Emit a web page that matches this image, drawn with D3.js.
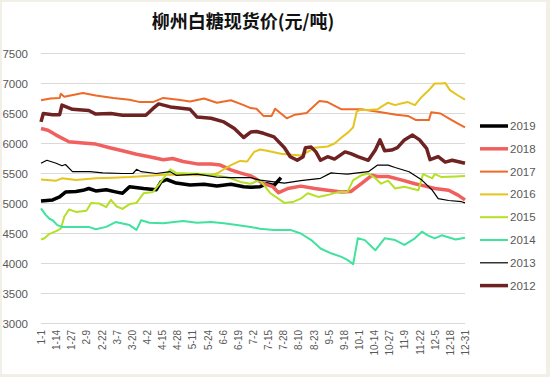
<!DOCTYPE html>
<html><head><meta charset="utf-8">
<script src="https://cdn.jsdelivr.net/npm/d3@7"></script>
<style>
html,body{margin:0;padding:0;background:#fff;}
svg{display:block;}
</style></head>
<body><svg id="c" width="550" height="377"></svg>
<script>
// ---- data (day index 0 = 1-1, 364 = 12-31) ----
const tickLabels = ["1-1","1-14","1-27","2-9","2-22","3-7","3-20","4-2","4-15","4-28","5-11","5-24","6-6","6-19","7-2","7-15","7-28","8-10","8-23","9-5","9-18","10-1","10-14","10-27","11-9","11-22","12-5","12-18","12-31"];
const yTicks = [3000,3500,4000,4500,5000,5500,6000,6500,7000,7500];
const years = ["2019","2018","2017","2016","2015","2014","2013","2012"];

const s2019 = [[0,5040],[5,5050],[10,5060],[16,5110],[21,5190],[30,5200],[36,5220],[41,5250],[47,5210],[56,5230],[65,5190],[70,5170],[76,5280],[88,5250],[99,5230],[103,5360],[108,5400],[116,5340],[128,5310],[140,5320],[151,5290],[163,5320],[174,5280],[180,5270],[188,5280],[194,5330],[200,5300],[206,5430]];
const s2018 = [[0,6250],[6,6220],[13,6140],[24,6030],[36,6010],[47,5990],[59,5930],[70,5880],[82,5820],[93,5780],[105,5730],[113,5750],[122,5700],[134,5660],[146,5660],[154,5640],[163,5560],[171,5510],[180,5460],[183,5430],[191,5330],[199,5280],[204,5180],[212,5250],[223,5290],[235,5250],[246,5220],[258,5190],[266,5200],[275,5330],[284,5470],[289,5450],[298,5450],[310,5390],[321,5330],[330,5290],[338,5250],[350,5220],[358,5140],[364,5060]];
const s2017 = [[0,6720],[8,6750],[16,6760],[17,6830],[20,6780],[36,6840],[47,6800],[62,6760],[76,6730],[85,6690],[96,6690],[105,6760],[118,6730],[128,6700],[140,6750],[151,6680],[163,6720],[174,6640],[180,6590],[185,6580],[191,6460],[198,6460],[201,6580],[211,6420],[218,6480],[228,6510],[239,6710],[246,6690],[258,6570],[275,6570],[292,6520],[305,6480],[315,6460],[322,6390],[333,6390],[335,6520],[343,6500],[350,6420],[358,6330],[364,6270]];
const s2016 = [[0,5400],[13,5380],[18,5420],[30,5390],[47,5420],[62,5430],[76,5440],[90,5460],[105,5480],[119,5480],[134,5470],[146,5480],[151,5500],[163,5640],[171,5710],[177,5700],[183,5860],[188,5900],[194,5880],[206,5830],[223,5800],[229,5860],[235,5930],[246,5950],[252,6000],[258,6100],[264,6190],[268,6270],[271,6530],[274,6560],[281,6560],[289,6570],[292,6610],[298,6680],[304,6640],[310,6670],[315,6690],[321,6640],[327,6780],[333,6890],[338,7000],[344,7000],[347,7010],[351,6890],[358,6800],[364,6730]];
const s2015 = [[0,4400],[3,4420],[7,4490],[13,4540],[17,4580],[20,4780],[24,4900],[30,4860],[39,4880],[43,5010],[50,5000],[56,4940],[60,5060],[65,4950],[70,4910],[76,4990],[82,5010],[88,5170],[96,5190],[101,5310],[105,5420],[111,5570],[116,5510],[128,5500],[140,5490],[151,5470],[163,5420],[171,5360],[180,5330],[188,5390],[197,5170],[209,5010],[217,5030],[223,5080],[229,5170],[238,5110],[246,5140],[255,5190],[263,5190],[268,5390],[275,5470],[281,5500],[287,5420],[292,5330],[298,5380],[304,5250],[312,5280],[324,5220],[328,5490],[336,5420],[338,5490],[344,5440],[356,5450],[364,5460]];
const s2014 = [[0,4920],[4,4810],[7,4750],[10,4720],[14,4640],[18,4610],[30,4610],[41,4610],[47,4570],[56,4610],[64,4690],[76,4640],[82,4560],[86,4720],[93,4680],[105,4670],[122,4710],[134,4680],[146,4690],[157,4670],[168,4640],[180,4610],[188,4580],[200,4560],[214,4560],[223,4500],[232,4390],[240,4250],[249,4170],[258,4110],[263,4060],[268,3990],[272,4420],[278,4390],[287,4220],[295,4420],[304,4390],[312,4310],[321,4420],[327,4530],[332,4470],[338,4420],[344,4470],[356,4400],[364,4430]];
const s2013 = [[0,5670],[5,5720],[13,5670],[18,5630],[21,5650],[27,5530],[42,5530],[53,5510],[70,5500],[79,5500],[82,5570],[86,5530],[99,5500],[111,5530],[116,5470],[134,5490],[151,5440],[163,5430],[180,5430],[188,5390],[200,5360],[209,5340],[223,5380],[240,5420],[249,5510],[255,5500],[263,5490],[281,5530],[289,5640],[298,5640],[304,5600],[316,5530],[327,5390],[336,5220],[341,5080],[350,5050],[361,5030],[364,5010]];
const s2012 = [[0,6360],[2,6500],[10,6480],[16,6480],[18,6640],[27,6570],[41,6550],[47,6490],[60,6500],[70,6470],[90,6470],[96,6580],[101,6660],[111,6610],[128,6570],[134,6440],[146,6420],[157,6360],[166,6250],[174,6100],[180,6190],[185,6200],[191,6170],[200,6110],[209,5930],[214,5780],[220,5720],[225,5780],[227,5930],[232,5940],[236,5860],[240,5720],[246,5780],[252,5740],[261,5860],[266,5830],[272,5780],[281,5720],[287,5890],[291,6060],[295,5880],[301,5890],[306,5930],[312,6060],[319,6140],[325,6060],[331,5920],[334,5730],[341,5780],[347,5690],[353,5720],[364,5670]];

const seriesData = [s2019,s2018,s2017,s2016,s2015,s2014,s2013,s2012];
const colors = ["#000000","#F0605E","#EE6A28","#E6C41E","#B4E028","#40E29E","#000000","#6E2222"];
const widths = [3.5,3.5,2,2,2,2,1.2,3.5];

// ---- drawing ----
const svg = d3.select("#c");
svg.append("rect").attr("width",550).attr("height",377).attr("fill","#F1EFE6");
svg.append("rect").attr("x",2).attr("y",2).attr("width",544).attr("height",372).attr("fill","#ffffff");

const x = d3.scaleLinear().domain([0,364]).range([41,465]);
const y = d3.scaleLinear().domain([3000,7500]).range([323.5,53.5]);

svg.append("text").attr("x",243).attr("y",28).attr("text-anchor","middle")
  .attr("font-family","'Noto Sans CJK SC'").attr("font-weight","bold").attr("font-size",18)
  .attr("fill","#111").text("柳州白糖现货价(元/吨)");

const g = svg.append("g");
// gridlines
g.selectAll("line.grid").data(yTicks).join("line")
  .attr("x1",41).attr("x2",465).attr("y1",d=>y(d)).attr("y2",d=>y(d))
  .attr("stroke","#D9D9D9").attr("stroke-width",1);

// y labels
const yAxis = d3.axisLeft(y).tickValues(yTicks).tickSize(0).tickPadding(0).tickFormat(d3.format("d"));
const ya = svg.append("g").attr("transform","translate(28,0)").call(yAxis);
ya.select(".domain").remove();
ya.selectAll("text").attr("font-family","'Liberation Sans'").attr("font-size",11.5).attr("fill","#595959");

// x labels
const xAxis = d3.axisBottom(x).tickValues(tickLabels.map((t,i)=>i*13)).tickSize(0).tickFormat((d,i)=>tickLabels[i]);
const xa = svg.append("g").attr("transform","translate(0,330)").call(xAxis);
xa.select(".domain").remove();
xa.selectAll("text").attr("font-family","'Liberation Sans'").attr("font-size",10).attr("fill","#595959")
  .attr("text-anchor","end").attr("transform","rotate(-90)").attr("x",0).attr("y",0).attr("dy","0.35em");

// lines
const line = d3.line().x(d=>x(d[0])).y(d=>y(d[1]));
seriesData.forEach((s,i)=>{
  g.append("path").datum(s).attr("d",line).attr("fill","none")
   .attr("stroke",colors[i]).attr("stroke-width",widths[i]).attr("stroke-linejoin","round");
});

// legend
const lg = svg.append("g");
years.forEach((yr,i)=>{
  const ly = 126 + i*22.8;
  lg.append("line").attr("x1",480).attr("x2",508).attr("y1",ly).attr("y2",ly)
    .attr("stroke",colors[i]).attr("stroke-width",widths[i]);
  lg.append("text").attr("x",510).attr("y",ly).attr("dy","0.35em")
    .attr("font-family","'Liberation Sans'").attr("font-size",11.5).attr("fill","#595959").text(yr);
});
</script></body></html>
